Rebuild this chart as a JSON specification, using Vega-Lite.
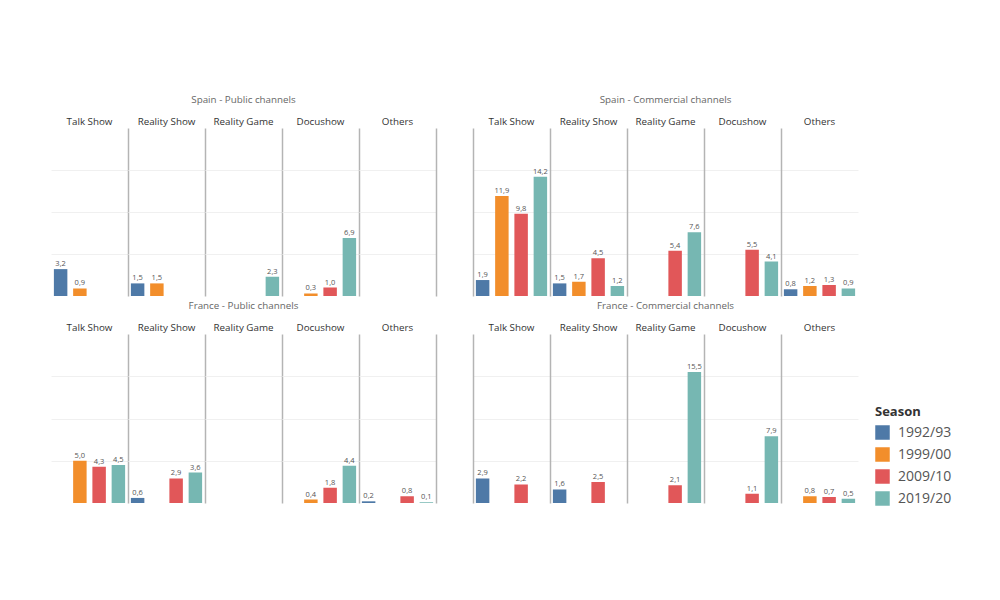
{
  "$schema": "https://vega.github.io/schema/vega-lite/v6.json",
  "padding": {"left": 51, "top": 95, "right": 5, "bottom": 5},
  "background": "white",
  "config": {
    "locale": {"number": {"decimal": ",", "thousands": ".", "grouping": [3], "currency": ["", " €"]}},
    "font": "Open Sans",
    "view": {"stroke": null},
    "title": {"fontSize": 9.8, "fontWeight": "normal", "color": "#666666", "anchor": "middle", "offset": 12},
    "header": {"labelFontSize": 9.8, "labelColor": "#333333", "labelPadding": 1, "title": null},
    "legend": {"titleFontSize": 13, "titleFontWeight": "bold", "titleColor": "#333333", "labelFontSize": 14, "labelColor": "#555555", "symbolType": "square", "symbolSize": 210, "symbolStrokeWidth": 0, "rowPadding": 7, "labelOffset": 8, "titlePadding": 6}
  },
  "data": {"values": [
    {"panel": "Spain - Public channels", "genre": "Talk Show", "season": "1992/93", "value": 3.2},
    {"panel": "Spain - Public channels", "genre": "Talk Show", "season": "1999/00", "value": 0.9},
    {"panel": "Spain - Public channels", "genre": "Reality Show", "season": "1992/93", "value": 1.5},
    {"panel": "Spain - Public channels", "genre": "Reality Show", "season": "1999/00", "value": 1.5},
    {"panel": "Spain - Public channels", "genre": "Reality Game", "season": "2019/20", "value": 2.3},
    {"panel": "Spain - Public channels", "genre": "Docushow", "season": "1999/00", "value": 0.3},
    {"panel": "Spain - Public channels", "genre": "Docushow", "season": "2009/10", "value": 1.0},
    {"panel": "Spain - Public channels", "genre": "Docushow", "season": "2019/20", "value": 6.9},
    {"panel": "Spain - Public channels", "genre": "Others", "season": "2019/20", "value": null},
    {"panel": "Spain - Commercial channels", "genre": "Talk Show", "season": "1992/93", "value": 1.9},
    {"panel": "Spain - Commercial channels", "genre": "Talk Show", "season": "1999/00", "value": 11.9},
    {"panel": "Spain - Commercial channels", "genre": "Talk Show", "season": "2009/10", "value": 9.8},
    {"panel": "Spain - Commercial channels", "genre": "Talk Show", "season": "2019/20", "value": 14.2},
    {"panel": "Spain - Commercial channels", "genre": "Reality Show", "season": "1992/93", "value": 1.5},
    {"panel": "Spain - Commercial channels", "genre": "Reality Show", "season": "1999/00", "value": 1.7},
    {"panel": "Spain - Commercial channels", "genre": "Reality Show", "season": "2009/10", "value": 4.5},
    {"panel": "Spain - Commercial channels", "genre": "Reality Show", "season": "2019/20", "value": 1.2},
    {"panel": "Spain - Commercial channels", "genre": "Reality Game", "season": "2009/10", "value": 5.4},
    {"panel": "Spain - Commercial channels", "genre": "Reality Game", "season": "2019/20", "value": 7.6},
    {"panel": "Spain - Commercial channels", "genre": "Docushow", "season": "2009/10", "value": 5.5},
    {"panel": "Spain - Commercial channels", "genre": "Docushow", "season": "2019/20", "value": 4.1},
    {"panel": "Spain - Commercial channels", "genre": "Others", "season": "1992/93", "value": 0.8},
    {"panel": "Spain - Commercial channels", "genre": "Others", "season": "1999/00", "value": 1.2},
    {"panel": "Spain - Commercial channels", "genre": "Others", "season": "2009/10", "value": 1.3},
    {"panel": "Spain - Commercial channels", "genre": "Others", "season": "2019/20", "value": 0.9},
    {"panel": "France - Public channels", "genre": "Talk Show", "season": "1999/00", "value": 5.0},
    {"panel": "France - Public channels", "genre": "Talk Show", "season": "2009/10", "value": 4.3},
    {"panel": "France - Public channels", "genre": "Talk Show", "season": "2019/20", "value": 4.5},
    {"panel": "France - Public channels", "genre": "Reality Show", "season": "1992/93", "value": 0.6},
    {"panel": "France - Public channels", "genre": "Reality Show", "season": "2009/10", "value": 2.9},
    {"panel": "France - Public channels", "genre": "Reality Show", "season": "2019/20", "value": 3.6},
    {"panel": "France - Public channels", "genre": "Reality Game", "season": "2019/20", "value": null},
    {"panel": "France - Public channels", "genre": "Docushow", "season": "1999/00", "value": 0.4},
    {"panel": "France - Public channels", "genre": "Docushow", "season": "2009/10", "value": 1.8},
    {"panel": "France - Public channels", "genre": "Docushow", "season": "2019/20", "value": 4.4},
    {"panel": "France - Public channels", "genre": "Others", "season": "1992/93", "value": 0.2},
    {"panel": "France - Public channels", "genre": "Others", "season": "2009/10", "value": 0.8},
    {"panel": "France - Public channels", "genre": "Others", "season": "2019/20", "value": 0.1},
    {"panel": "France - Commercial channels", "genre": "Talk Show", "season": "1992/93", "value": 2.9},
    {"panel": "France - Commercial channels", "genre": "Talk Show", "season": "2009/10", "value": 2.2},
    {"panel": "France - Commercial channels", "genre": "Reality Show", "season": "1992/93", "value": 1.6},
    {"panel": "France - Commercial channels", "genre": "Reality Show", "season": "2009/10", "value": 2.5},
    {"panel": "France - Commercial channels", "genre": "Reality Game", "season": "2009/10", "value": 2.1},
    {"panel": "France - Commercial channels", "genre": "Reality Game", "season": "2019/20", "value": 15.5},
    {"panel": "France - Commercial channels", "genre": "Docushow", "season": "2009/10", "value": 1.1},
    {"panel": "France - Commercial channels", "genre": "Docushow", "season": "2019/20", "value": 7.9},
    {"panel": "France - Commercial channels", "genre": "Others", "season": "1999/00", "value": 0.8},
    {"panel": "France - Commercial channels", "genre": "Others", "season": "2009/10", "value": 0.7},
    {"panel": "France - Commercial channels", "genre": "Others", "season": "2019/20", "value": 0.5}
  ]},
  "spacing": 5,
  "vconcat": [
    {
      "spacing": 37,
      "hconcat": [
        {
          "title": {"text": "Spain - Public channels"},
          "transform": [{"filter": "datum.panel === 'Spain - Public channels'"}],
          "facet": {"column": {"field": "genre", "type": "nominal", "sort": ["Talk Show", "Reality Show", "Reality Game", "Docushow", "Others"], "header": {"title": null}}},
          "spacing": {"column": 0},
          "resolve": {"axis": {"y": "independent"}},
          "spec": {
            "width": 77, "height": 168,
            "encoding": {
              "x": {"field": "season", "type": "nominal", "scale": {"domain": ["1992/93", "1999/00", "2009/10", "2019/20"], "paddingInner": 0.3, "paddingOuter": 0.15}, "axis": null},
              "y": {"field": "value", "type": "quantitative", "scale": {"domain": [0, 20]}, "axis": {"orient": "right", "title": null, "labels": false, "ticks": false, "domain": true, "domainColor": "#b4b4b4", "domainWidth": 1.5, "grid": true, "gridColor": "#f0f0f0", "values": [5, 10, 15]}}
            },
            "layer": [
              {"mark": {"type": "bar"}, "encoding": {"color": {"field": "season", "type": "nominal", "title": "Season", "scale": {"domain": ["1992/93", "1999/00", "2009/10", "2019/20"], "range": ["#4e79a7", "#f28e2b", "#e15759", "#76b7b2"]}, "legend": {"orient": "none", "legendX": 824, "legendY": 278}}}},
              {"mark": {"type": "text", "dy": -5, "fontSize": 7.5, "color": "#555555"}, "encoding": {"text": {"field": "value", "type": "quantitative", "format": ".1f"}}}
            ]
          }
        },
        {
          "title": {"text": "Spain - Commercial channels"},
          "transform": [{"filter": "datum.panel === 'Spain - Commercial channels'"}],
          "facet": {"column": {"field": "genre", "type": "nominal", "sort": ["Talk Show", "Reality Show", "Reality Game", "Docushow", "Others"], "header": {"title": null}}},
          "spacing": {"column": 0},
          "resolve": {"axis": {"y": "independent"}},
          "spec": {
            "width": 77, "height": 168,
            "encoding": {
              "x": {"field": "season", "type": "nominal", "scale": {"domain": ["1992/93", "1999/00", "2009/10", "2019/20"], "paddingInner": 0.3, "paddingOuter": 0.15}, "axis": null},
              "y": {"field": "value", "type": "quantitative", "scale": {"domain": [0, 20]}, "axis": {"orient": "left", "title": null, "labels": false, "ticks": false, "domain": true, "domainColor": "#b4b4b4", "domainWidth": 1.5, "grid": true, "gridColor": "#f0f0f0", "values": [5, 10, 15]}}
            },
            "layer": [
              {"mark": {"type": "bar"}, "encoding": {"color": {"field": "season", "type": "nominal", "title": "Season", "scale": {"domain": ["1992/93", "1999/00", "2009/10", "2019/20"], "range": ["#4e79a7", "#f28e2b", "#e15759", "#76b7b2"]}, "legend": {"orient": "none", "legendX": 824, "legendY": 278}}}},
              {"mark": {"type": "text", "dy": -5, "fontSize": 7.5, "color": "#555555"}, "encoding": {"text": {"field": "value", "type": "quantitative", "format": ".1f"}}}
            ]
          }
        }
      ]
    },
    {
      "spacing": 37,
      "hconcat": [
        {
          "title": {"text": "France - Public channels"},
          "transform": [{"filter": "datum.panel === 'France - Public channels'"}],
          "facet": {"column": {"field": "genre", "type": "nominal", "sort": ["Talk Show", "Reality Show", "Reality Game", "Docushow", "Others"], "header": {"title": null}}},
          "spacing": {"column": 0},
          "resolve": {"axis": {"y": "independent"}},
          "spec": {
            "width": 77, "height": 169,
            "encoding": {
              "x": {"field": "season", "type": "nominal", "scale": {"domain": ["1992/93", "1999/00", "2009/10", "2019/20"], "paddingInner": 0.3, "paddingOuter": 0.15}, "axis": null},
              "y": {"field": "value", "type": "quantitative", "scale": {"domain": [0, 20]}, "axis": {"orient": "right", "title": null, "labels": false, "ticks": false, "domain": true, "domainColor": "#b4b4b4", "domainWidth": 1.5, "grid": true, "gridColor": "#f0f0f0", "values": [5, 10, 15]}}
            },
            "layer": [
              {"mark": {"type": "bar"}, "encoding": {"color": {"field": "season", "type": "nominal", "title": "Season", "scale": {"domain": ["1992/93", "1999/00", "2009/10", "2019/20"], "range": ["#4e79a7", "#f28e2b", "#e15759", "#76b7b2"]}, "legend": {"orient": "none", "legendX": 824, "legendY": 278}}}},
              {"mark": {"type": "text", "dy": -5, "fontSize": 7.5, "color": "#555555"}, "encoding": {"text": {"field": "value", "type": "quantitative", "format": ".1f"}}}
            ]
          }
        },
        {
          "title": {"text": "France - Commercial channels"},
          "transform": [{"filter": "datum.panel === 'France - Commercial channels'"}],
          "facet": {"column": {"field": "genre", "type": "nominal", "sort": ["Talk Show", "Reality Show", "Reality Game", "Docushow", "Others"], "header": {"title": null}}},
          "spacing": {"column": 0},
          "resolve": {"axis": {"y": "independent"}},
          "spec": {
            "width": 77, "height": 169,
            "encoding": {
              "x": {"field": "season", "type": "nominal", "scale": {"domain": ["1992/93", "1999/00", "2009/10", "2019/20"], "paddingInner": 0.3, "paddingOuter": 0.15}, "axis": null},
              "y": {"field": "value", "type": "quantitative", "scale": {"domain": [0, 20]}, "axis": {"orient": "left", "title": null, "labels": false, "ticks": false, "domain": true, "domainColor": "#b4b4b4", "domainWidth": 1.5, "grid": true, "gridColor": "#f0f0f0", "values": [5, 10, 15]}}
            },
            "layer": [
              {"mark": {"type": "bar"}, "encoding": {"color": {"field": "season", "type": "nominal", "title": "Season", "scale": {"domain": ["1992/93", "1999/00", "2009/10", "2019/20"], "range": ["#4e79a7", "#f28e2b", "#e15759", "#76b7b2"]}, "legend": {"orient": "none", "legendX": 824, "legendY": 278}}}},
              {"mark": {"type": "text", "dy": -5, "fontSize": 7.5, "color": "#555555"}, "encoding": {"text": {"field": "value", "type": "quantitative", "format": ".1f"}}}
            ]
          }
        }
      ]
    }
  ],
  "resolve": {"scale": {"color": "shared"}}
}
